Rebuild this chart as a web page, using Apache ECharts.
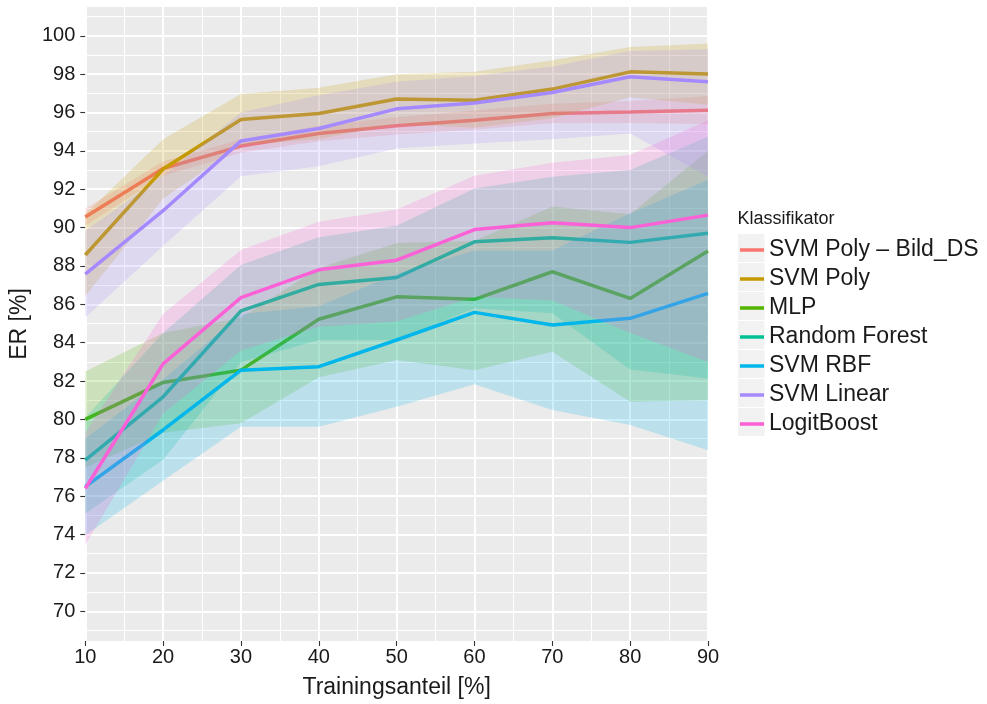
<!DOCTYPE html>
<html>
<head>
<meta charset="utf-8">
<script src="https://cdn.jsdelivr.net/npm/echarts@6/dist/echarts.min.js"></script>
<style>
  html, body { margin: 0; padding: 0; background: #ffffff; }
  #chart { width: 987px; height: 704px; }
</style>
</head>
<body>
<div id="chart"></div>
<script>
// Training share on the x axis (percent)
const trainShare = [10, 20, 30, 40, 50, 60, 70, 80, 90];

// Tick values
const xTicks = [10, 20, 30, 40, 50, 60, 70, 80, 90];
const yTicks = [70, 72, 74, 76, 78, 80, 82, 84, 86, 88, 90, 92, 94, 96, 98, 100];
const yMinorTicks = [69, 71, 73, 75, 77, 79, 81, 83, 85, 87, 89, 91, 93, 95, 97, 99, 101];

// Classifier names (legend order)
const classifiers = ['SVM Poly – Bild_DS', 'SVM Poly', 'MLP', 'Random Forest', 'SVM RBF', 'SVM Linear', 'LogitBoost'];
const palette = ['#F8766D', '#C49A00', '#53B400', '#00C094', '#00B6EB', '#A58AFF', '#FB61D7'];

// Recognition rate ER [%]: mean and band limits per classifier
const svmPolyBildMean = [90.55, 93.08, 94.25, 94.91, 95.31, 95.60, 95.95, 96.03, 96.12];
const svmPolyBildLow  = [90.10, 92.70, 93.90, 94.50, 94.85, 95.10, 95.45, 95.45, 95.40];
const svmPolyBildHigh = [91.00, 93.45, 94.60, 95.30, 95.75, 96.10, 96.45, 96.60, 96.85];

const svmPolyMean = [88.57, 93.05, 95.64, 95.95, 96.70, 96.64, 97.22, 98.12, 98.01];
const svmPolyLow  = [86.44, 91.50, 94.30, 94.60, 95.40, 95.20, 95.70, 96.80, 96.40];
const svmPolyHigh = [90.70, 94.60, 96.96, 97.29, 98.00, 98.12, 98.73, 99.42, 99.60];

const mlpMean = [80.00, 81.93, 82.57, 85.22, 86.39, 86.26, 87.70, 86.31, 88.78];
const mlpLow  = [77.50, 79.30, 79.80, 82.20, 83.10, 82.57, 83.53, 80.92, 81.00];
const mlpHigh = [82.50, 84.50, 85.30, 87.90, 89.20, 89.30, 91.10, 90.70, 94.00];

const randomForestMean = [77.88, 81.18, 85.66, 87.04, 87.40, 89.26, 89.47, 89.23, 89.70];
const randomForestLow  = [75.10, 77.90, 83.00, 84.14, 84.14, 85.80, 85.53, 82.60, 82.14];
const randomForestHigh = [80.10, 84.50, 88.05, 89.50, 90.10, 92.04, 92.65, 93.00, 94.73];

const svmRbfMean = [76.50, 79.45, 82.57, 82.75, 84.14, 85.58, 84.92, 85.27, 86.57];
const svmRbfLow  = [73.96, 76.80, 79.62, 79.62, 80.66, 81.84, 80.49, 79.71, 78.40];
const svmRbfHigh = [79.00, 82.10, 85.50, 85.90, 87.60, 88.80, 88.80, 90.75, 92.50];

const svmLinearMean = [87.58, 90.88, 94.52, 95.17, 96.19, 96.50, 97.04, 97.86, 97.60];
const svmLinearLow  = [85.32, 89.04, 92.68, 93.20, 94.13, 94.39, 94.60, 94.91, 92.65];
const svmLinearHigh = [89.84, 92.70, 96.00, 96.90, 97.60, 97.90, 98.40, 99.20, 99.30];

const logitBoostMean = [76.40, 82.90, 86.35, 87.80, 88.30, 89.90, 90.25, 90.00, 90.65];
const logitBoostLow  = [73.45, 80.30, 83.60, 84.83, 85.10, 86.40, 86.20, 84.50, 83.00];
const logitBoostHigh = [79.30, 85.50, 88.83, 90.30, 90.95, 92.70, 93.38, 93.78, 95.60];

const means = [svmPolyBildMean, svmPolyMean, mlpMean, randomForestMean, svmRbfMean, svmLinearMean, logitBoostMean];
const lows  = [svmPolyBildLow, svmPolyLow, mlpLow, randomForestLow, svmRbfLow, svmLinearLow, logitBoostLow];
const highs = [svmPolyBildHigh, svmPolyHigh, mlpHigh, randomForestHigh, svmRbfHigh, svmLinearHigh, logitBoostHigh];

const FONT = 'Liberation Sans, Arial, Helvetica, sans-serif';
const TEXT_COLOR = '#1a1a1a';

function hexToRgba(hex, a) {
  const n = parseInt(hex.slice(1), 16);
  return 'rgba(' + ((n >> 16) & 255) + ',' + ((n >> 8) & 255) + ',' + (n & 255) + ',' + a + ')';
}

// A band is drawn as one polygon: upper edge left->right, lower edge right->left
function ribbonRenderer(low, high, fill) {
  return function (params, api) {
    if (params.dataIndex !== 0) return null;
    const upper = trainShare.map((x, i) => api.coord([x, high[i]]));
    const lower = trainShare.map((x, i) => api.coord([x, low[i]])).reverse();
    return {
      type: 'polygon',
      shape: { points: upper.concat(lower) },
      style: { fill: fill, stroke: null }
    };
  };
}

const series = [];

// Panel grid lines along y (major + minor), under everything else
series.push({
  type: 'line',
  name: 'grid',
  data: [],
  z: 1,
  silent: true,
  markLine: {
    silent: true,
    symbol: ['none', 'none'],
    animation: false,
    label: { show: false },
    emphasis: { disabled: true },
    data: yMinorTicks.map(v => ({ yAxis: v, lineStyle: { color: '#ffffff', width: 1, type: 'solid' } }))
      .concat(yTicks.map(v => ({ yAxis: v, lineStyle: { color: '#ffffff', width: 2, type: 'solid' } })))
  }
});

// Each classifier: translucent band first, then its mean line on top of it;
// later classifiers are layered over earlier ones.
classifiers.forEach((name, k) => {
  series.push({
    type: 'custom',
    name: name + ' band',
    data: trainShare.map((x, i) => [x, lows[k][i], highs[k][i]]),
    encode: { x: 0, y: [1, 2] },
    renderItem: ribbonRenderer(lows[k], highs[k], hexToRgba(palette[k], 0.2)),
    z: 10 + 2 * k,
    silent: true
  });
  series.push({
    type: 'line',
    name: name,
    data: trainShare.map((x, i) => [x, means[k][i]]),
    showSymbol: false,
    symbol: 'none',
    z: 11 + 2 * k,
    lineStyle: { color: palette[k], width: 3.5 },
    itemStyle: { color: palette[k] },
    emphasis: { disabled: true }
  });
});

const legendTop = 234;
const legendStep = 29;

const keyBoxes = classifiers.map((name, k) => ({
  type: 'rect',
  left: 738,
  top: legendTop + k * legendStep,
  shape: { width: 26.5, height: 28 },
  style: { fill: '#F2F2F2' },
  z: 1
}));

const option = {
  animation: false,
  backgroundColor: '#ffffff',
  grid: {
    left: 84, top: 7, width: 624, height: 634,
    show: true, backgroundColor: '#EBEBEB', borderWidth: 0
  },
  xAxis: {
    type: 'value',
    min: 10, max: 90, interval: 10,
    name: 'Trainingsanteil [%]',
    nameLocation: 'middle',
    nameGap: 35,
    nameTextStyle: { fontFamily: FONT, fontSize: 23, color: TEXT_COLOR },
    axisLine: { show: false },
    axisTick: { show: true, length: 5, lineStyle: { color: '#333333', width: 1.1 } },
    axisLabel: {
      fontFamily: FONT, fontSize: 20, color: TEXT_COLOR, margin: 6,
      customValues: xTicks
    },
    splitLine: { show: true, lineStyle: { color: '#ffffff', width: 2 } },
    minorTick: { show: false, splitNumber: 2 },
    minorSplitLine: { show: true, lineStyle: { color: '#ffffff', width: 1 } }
  },
  yAxis: {
    type: 'value',
    min: 68.45, max: 101.5,
    name: 'ER [%]',
    nameLocation: 'middle',
    nameGap: 47,
    nameRotate: 90,
    nameTextStyle: { fontFamily: FONT, fontSize: 23, color: TEXT_COLOR },
    axisLine: { show: false },
    axisTick: { show: true, length: 5, customValues: yTicks, lineStyle: { color: '#333333', width: 1.1 } },
    axisLabel: {
      fontFamily: FONT, fontSize: 20, color: TEXT_COLOR, margin: 10,
      customValues: yTicks
    },
    splitLine: { show: false },
    minorSplitLine: { show: false }
  },
  legend: {
    orient: 'vertical',
    left: 740,
    top: legendTop + 2,
    padding: 0,
    itemWidth: 24,
    itemHeight: 3.5,
    itemGap: legendStep - 28,
    icon: 'rect',
    selectedMode: false,
    z: 5,
    data: classifiers,
    textStyle: { fontFamily: FONT, fontSize: 23, color: TEXT_COLOR, lineHeight: 28 }
  },
  graphic: keyBoxes.concat([{
    type: 'text',
    left: 737.5,
    top: 210,
    z: 5,
    style: { text: 'Klassifikator', fontFamily: FONT, fontSize: 18, fill: TEXT_COLOR }
  }]),
  series: series
};

const chart = echarts.init(document.getElementById('chart'), null, { renderer: 'canvas' });
chart.setOption(option);
</script>
</body>
</html>
